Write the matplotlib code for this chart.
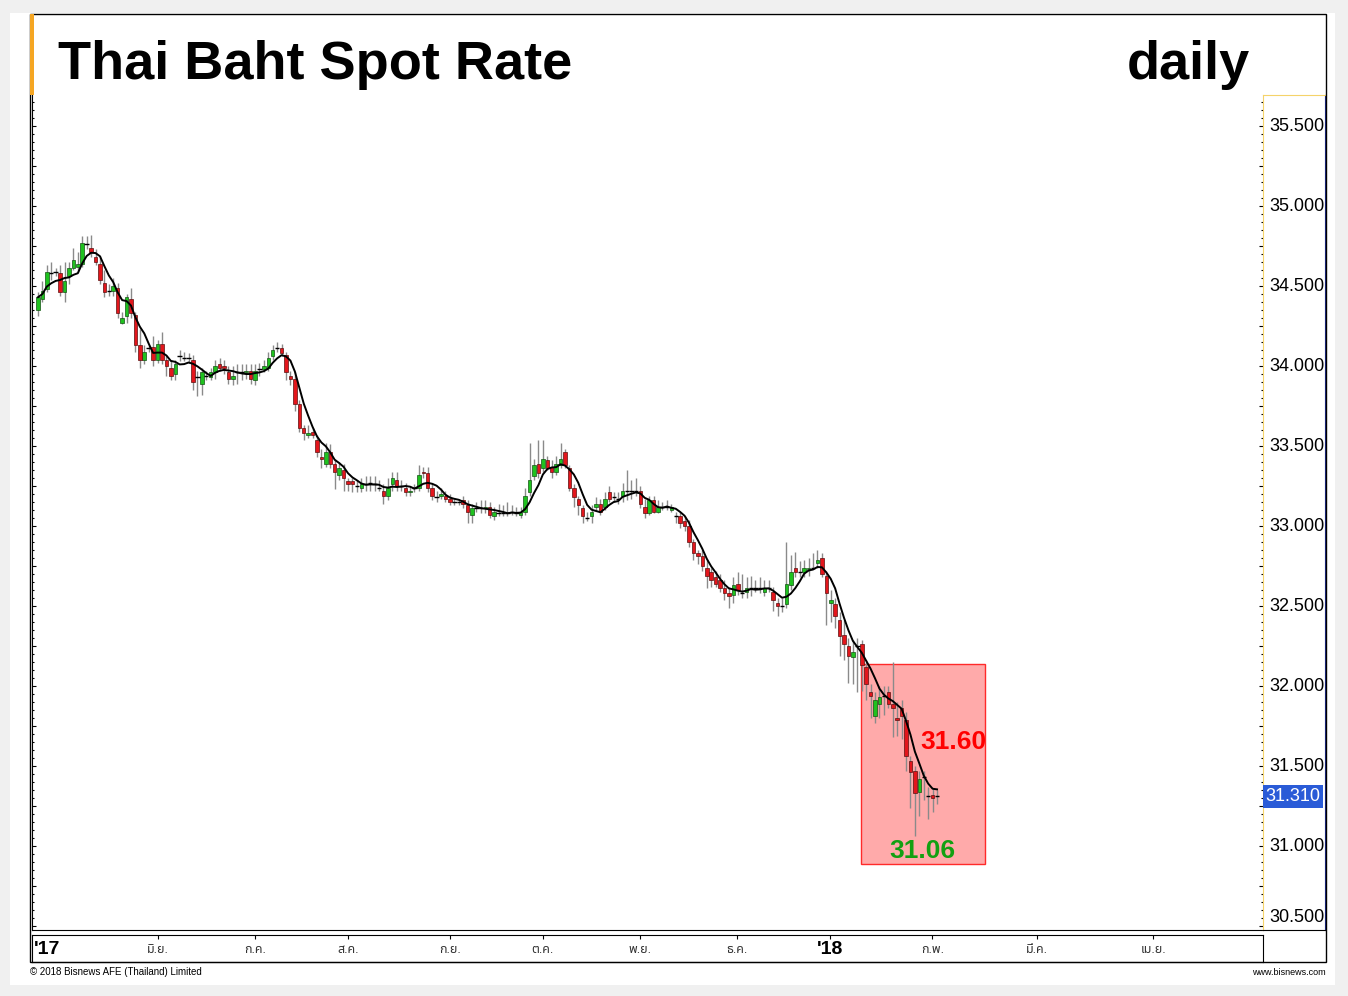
import matplotlib
matplotlib.use('Agg')
import matplotlib.pyplot as plt
from matplotlib.patches import Rectangle
from matplotlib.ticker import MultipleLocator
import numpy as np
import pandas as pd

# daily OHLC, Thai baht per USD
opens = [34.35, 34.42, 34.48, 34.58, 34.59, 34.58, 34.46, 34.56, 34.61, 34.62,
         34.64, 34.76, 34.74, 34.68, 34.64, 34.52, 34.47, 34.47, 34.49, 34.27,
         34.31, 34.42, 34.32, 34.13, 34.04, 34.11, 34.12, 34.04, 34.14, 34.04,
         33.99, 33.95, 34.06, 34.05, 34.05, 34.04, 33.93, 33.89, 33.94, 33.93,
         33.96, 34.01, 34.00, 33.96, 33.92, 33.96, 33.96, 33.96, 33.97, 33.91,
         33.98, 33.98, 33.99, 34.06, 34.11, 34.11, 34.07, 33.94, 33.92, 33.76,
         33.61, 33.57, 33.59, 33.54, 33.43, 33.39, 33.46, 33.39, 33.32, 33.35,
         33.28, 33.28, 33.25, 33.24, 33.26, 33.27, 33.26, 33.24, 33.22, 33.19,
         33.26, 33.29, 33.25, 33.24, 33.21, 33.24, 33.24, 33.34, 33.33, 33.24,
         33.18, 33.19, 33.19, 33.17, 33.15, 33.15, 33.16, 33.13, 33.07, 33.11,
         33.11, 33.11, 33.12, 33.06, 33.08, 33.08, 33.08, 33.09, 33.08, 33.07,
         33.09, 33.21, 33.31, 33.39, 33.36, 33.41, 33.37, 33.34, 33.38, 33.46,
         33.36, 33.24, 33.17, 33.11, 33.05, 33.06, 33.12, 33.14, 33.12, 33.21,
         33.18, 33.17, 33.19, 33.22, 33.22, 33.22, 33.22, 33.12, 33.08, 33.16,
         33.09, 33.12, 33.12, 33.10, 33.06, 33.06, 33.03, 33.00, 32.90, 32.83,
         32.81, 32.74, 32.71, 32.68, 32.66, 32.61, 32.58, 32.57, 32.64, 32.58,
         32.59, 32.61, 32.61, 32.61, 32.59, 32.61, 32.59, 32.52, 32.50, 32.51,
         32.63, 32.74, 32.71, 32.71, 32.73, 32.74, 32.77, 32.80, 32.69, 32.52,
         32.51, 32.41, 32.32, 32.25, 32.18, 32.25, 32.26, 32.12, 31.96, 31.81,
         31.89, 31.94, 31.96, 31.89, 31.80, 31.86, 31.79, 31.53, 31.47, 31.34,
         31.43, 31.31, 31.32, 31.31]
highs = [34.46, 34.53, 34.63, 34.65, 34.61, 34.63, 34.65, 34.65, 34.74, 34.71,
         34.81, 34.81, 34.82, 34.73, 34.69, 34.60, 34.51, 34.55, 34.52, 34.34,
         34.45, 34.49, 34.34, 34.23, 34.13, 34.13, 34.19, 34.16, 34.21, 34.07,
         34.04, 34.04, 34.10, 34.09, 34.08, 34.07, 33.97, 33.99, 33.97, 33.99,
         34.04, 34.05, 34.04, 34.00, 34.00, 34.01, 34.01, 34.01, 34.01, 34.01,
         34.02, 34.04, 34.09, 34.13, 34.15, 34.14, 34.09, 33.97, 33.96, 33.79,
         33.63, 33.63, 33.61, 33.57, 33.48, 33.52, 33.51, 33.42, 33.40, 33.39,
         33.30, 33.30, 33.29, 33.30, 33.31, 33.31, 33.31, 33.29, 33.26, 33.30,
         33.34, 33.34, 33.29, 33.27, 33.25, 33.26, 33.38, 33.37, 33.37, 33.27,
         33.22, 33.24, 33.22, 33.20, 33.17, 33.17, 33.19, 33.16, 33.14, 33.15,
         33.16, 33.16, 33.15, 33.12, 33.14, 33.13, 33.15, 33.13, 33.12, 33.12,
         33.24, 33.52, 33.42, 33.54, 33.54, 33.44, 33.41, 33.44, 33.52, 33.48,
         33.38, 33.26, 33.19, 33.13, 33.09, 33.13, 33.18, 33.17, 33.21, 33.25,
         33.21, 33.21, 33.27, 33.35, 33.29, 33.30, 33.25, 33.17, 33.19, 33.19,
         33.16, 33.15, 33.16, 33.14, 33.09, 33.09, 33.06, 33.04, 32.92, 32.85,
         32.85, 32.79, 32.74, 32.72, 32.70, 32.66, 32.62, 32.68, 32.71, 32.70,
         32.68, 32.69, 32.66, 32.68, 32.66, 32.66, 32.62, 32.55, 32.55, 32.90,
         32.82, 32.84, 32.78, 32.79, 32.80, 32.83, 32.85, 32.83, 32.72, 32.60,
         32.55, 32.46, 32.41, 32.30, 32.29, 32.30, 32.29, 32.16, 32.01, 31.96,
         32.00, 32.00, 32.00, 32.15, 31.90, 31.91, 31.84, 31.56, 31.50, 31.47,
         31.47, 31.37, 31.36, 31.35]
lows = [34.31, 34.40, 34.46, 34.54, 34.56, 34.44, 34.40, 34.51, 34.60, 34.59,
        34.62, 34.73, 34.68, 34.63, 34.51, 34.43, 34.44, 34.44, 34.30, 34.26,
        34.27, 34.30, 34.09, 33.99, 34.01, 34.09, 34.00, 34.02, 34.01, 33.94,
        33.91, 33.91, 34.03, 34.03, 34.02, 33.85, 33.81, 33.82, 33.91, 33.91,
        33.92, 33.97, 33.95, 33.89, 33.88, 33.89, 33.91, 33.92, 33.89, 33.88,
        33.94, 33.96, 33.97, 34.04, 34.09, 34.06, 33.91, 33.88, 33.72, 33.59,
        33.54, 33.55, 33.55, 33.43, 33.36, 33.37, 33.36, 33.23, 33.29, 33.22,
        33.22, 33.21, 33.21, 33.21, 33.22, 33.22, 33.22, 33.22, 33.14, 33.16,
        33.22, 33.22, 33.22, 33.19, 33.19, 33.21, 33.22, 33.30, 33.21, 33.16,
        33.15, 33.17, 33.15, 33.13, 33.13, 33.13, 33.11, 33.02, 33.02, 33.09,
        33.08, 33.08, 33.05, 33.04, 33.06, 33.06, 33.06, 33.07, 33.06, 33.05,
        33.07, 33.19, 33.29, 33.30, 33.34, 33.35, 33.30, 33.32, 33.36, 33.36,
        33.22, 33.12, 33.07, 33.02, 33.03, 33.02, 33.10, 33.07, 33.10, 33.15,
        33.15, 33.14, 33.15, 33.16, 33.17, 33.19, 33.11, 33.05, 33.07, 33.08,
        33.08, 33.10, 33.10, 33.09, 33.02, 32.99, 32.97, 32.87, 32.79, 32.76,
        32.72, 32.61, 32.62, 32.62, 32.59, 32.54, 32.49, 32.52, 32.57, 32.55,
        32.55, 32.56, 32.59, 32.58, 32.56, 32.59, 32.47, 32.44, 32.46, 32.49,
        32.60, 32.68, 32.68, 32.68, 32.69, 32.73, 32.74, 32.68, 32.38, 32.40,
        32.36, 32.19, 32.16, 32.02, 32.01, 31.96, 31.97, 31.91, 31.80, 31.77,
        31.80, 31.82, 31.86, 31.68, 31.69, 31.67, 31.47, 31.24, 31.06, 31.19,
        31.29, 31.17, 31.21, 31.26]
closes = [34.43, 34.47, 34.59, 34.58, 34.59, 34.46, 34.53, 34.61, 34.66, 34.64,
          34.77, 34.76, 34.71, 34.65, 34.54, 34.46, 34.47, 34.50, 34.33, 34.30,
          34.43, 34.33, 34.13, 34.04, 34.09, 34.11, 34.04, 34.14, 34.04, 34.00,
          33.94, 34.01, 34.06, 34.05, 34.05, 33.90, 33.93, 33.96, 33.94, 33.96,
          34.00, 33.99, 33.99, 33.92, 33.94, 33.96, 33.96, 33.97, 33.92, 33.97,
          33.98, 34.00, 34.05, 34.10, 34.11, 34.08, 33.96, 33.92, 33.76, 33.61,
          33.58, 33.58, 33.57, 33.46, 33.42, 33.46, 33.39, 33.34, 33.36, 33.30,
          33.26, 33.26, 33.25, 33.26, 33.26, 33.27, 33.26, 33.24, 33.19, 33.24,
          33.30, 33.25, 33.25, 33.21, 33.22, 33.24, 33.32, 33.33, 33.24, 33.19,
          33.18, 33.20, 33.17, 33.15, 33.15, 33.15, 33.14, 33.09, 33.11, 33.11,
          33.11, 33.12, 33.07, 33.09, 33.08, 33.08, 33.08, 33.09, 33.08, 33.09,
          33.19, 33.29, 33.38, 33.33, 33.42, 33.36, 33.34, 33.39, 33.42, 33.38,
          33.24, 33.18, 33.13, 33.06, 33.05, 33.09, 33.14, 33.09, 33.17, 33.17,
          33.18, 33.17, 33.22, 33.22, 33.22, 33.22, 33.14, 33.08, 33.16, 33.09,
          33.12, 33.12, 33.12, 33.12, 33.06, 33.02, 33.00, 32.90, 32.83, 32.81,
          32.75, 32.69, 32.66, 32.64, 32.61, 32.58, 32.56, 32.63, 32.60, 32.58,
          32.61, 32.61, 32.61, 32.61, 32.61, 32.61, 32.54, 32.50, 32.50, 32.64,
          32.71, 32.71, 32.71, 32.74, 32.74, 32.74, 32.79, 32.70, 32.58, 32.54,
          32.44, 32.31, 32.26, 32.19, 32.21, 32.25, 32.13, 32.01, 31.94, 31.91,
          31.93, 31.94, 31.89, 31.86, 31.79, 31.81, 31.56, 31.46, 31.33, 31.42,
          31.43, 31.31, 31.30, 31.31]

# x axis: bar index where each month starts
month_pos = [27.1, 49.0, 70.0, 93.0, 114.0, 135.9, 157.8, 201.9, 225.6, 251.8]
month_labels = ['มิ.ย.', 'ก.ค.', 'ส.ค.', 'ก.ย.', 'ต.ค.', 'พ.ย.', 'ธ.ค.', 'ก.พ.', 'มี.ค.', 'เม.ย.']
year_pos = [-1.0, 178.8]
year_labels = ["'17", "'18"]

price_ticks = [35.5, 35.0, 34.5, 34.0, 33.5, 33.0, 32.5, 32.0, 31.5, 31.0, 30.5]
last_price = 31.31
range_high, range_low = '31.60', '31.06'

NARROW = ['Liberation Sans Narrow', 'Liberation Sans', 'DejaVu Sans']
THAI = ['Liberation Sans', 'Noto Sans Thai', 'Noto Sans Thai UI', 'Noto Serif Thai',
        'Noto Looped Thai', 'Loma', 'Garuda', 'Norasi', 'Kinnari', 'Waree',
        'Sawasdee', 'Umpush', 'Tlwg Typo', 'Tlwg Typist', 'Laksaman', 'Sarabun',
        'FreeSans', 'FreeSerif', 'Tahoma', 'Leelawadee UI', 'DejaVu Sans']

W, H = 1348, 996


def fx(x):
    return x / W


def fy(y):
    return 1 - y / H


fig = plt.figure(figsize=(W / 100, H / 100), dpi=100, facecolor='#f0f0f0')
fig.patches.append(Rectangle((fx(10), fy(985)), fx(1335) - fx(10), fy(13) - fy(985),
                             transform=fig.transFigure, facecolor='white',
                             edgecolor='none', zorder=-5))

ax = fig.add_axes([fx(32), fy(930), fx(1263) - fx(32), fy(95) - fy(930)])
rp = fig.add_axes([fx(1263), fy(930), fx(1325) - fx(1263), fy(95) - fy(930)])
st = fig.add_axes([fx(32), fy(962), fx(1263) - fx(32), fy(935) - fy(962)])
for a in (ax, rp, st):
    a.set_facecolor('none')

ymin, ymax = 30.475, 35.694
xmin, xmax = -1.35, 276.6

o = np.array(opens)
h = np.array(highs)
l = np.array(lows)
c = np.array(closes)
idx = np.arange(len(c))

# highlighted range box
ax.add_patch(Rectangle((185.8, 30.89), 28.0, 1.25, facecolor='#ffaaaa',
                       edgecolor='#ff2a2a', lw=1.0, zorder=1))

ax.vlines(idx, l, h, color='#8a8a8a', lw=1.0, zorder=2)
up = c > o
dn = c < o
eq = c == o
ax.bar(idx[up], (c - o)[up], bottom=o[up], width=0.8, color='#1fc21f',
       edgecolor='#145214', lw=0.5, zorder=3)
ax.bar(idx[dn], (o - c)[dn], bottom=c[dn], width=0.8, color='#e3161c',
       edgecolor='#5a1010', lw=0.5, zorder=3)
ax.hlines(c[eq], idx[eq] - 0.5, idx[eq] + 0.5, color='black', lw=1.0, zorder=3)

ma = pd.Series(c).rolling(5, min_periods=1).mean()
ax.plot(idx, ma, color='black', lw=1.4, zorder=4)

ax.text(206.6, 31.65, range_high, color='#ff0000', fontsize=19, fontweight='bold',
        family=NARROW, ha='center', va='center', zorder=5)
ax.text(199.8, 30.97, range_low, color='#12a012', fontsize=19, fontweight='bold',
        family=NARROW, ha='center', va='center', zorder=5)

ax.set_xlim(xmin, xmax)
ax.set_ylim(ymin, ymax)
ax.yaxis.set_major_locator(MultipleLocator(0.25))
ax.yaxis.set_minor_locator(MultipleLocator(0.05))
ax.tick_params(axis='y', which='both', left=True, right=True, direction='in',
               labelleft=False, colors='black')
ax.tick_params(axis='y', which='major', length=3, width=0.8)
ax.tick_params(axis='y', which='minor', length=1.5, width=0.8)
ax.set_xticks([])
for s in ['top', 'right']:
    ax.spines[s].set_visible(False)
ax.spines['left'].set_color('black')
ax.spines['bottom'].set_color('black')

# price panel on the right
rp.set_ylim(ymin, ymax)
rp.set_xlim(0, 1)
rp.set_xticks([])
rp.set_yticks([])
rp.spines['left'].set_color('#f5d36a')
rp.spines['top'].set_color('#f5d36a')
rp.spines['right'].set_color('#1c2a8c')
rp.spines['bottom'].set_color('black')
for p in price_ticks:
    va = 'bottom' if p == price_ticks[-1] else 'center'
    rp.text(0.11, p, f'{p:.3f}', fontsize=13, family=NARROW, ha='left', va=va)
rp.text(0.04, last_price, f'{last_price:.3f}', fontsize=13, family=NARROW,
        ha='left', va='center', color='white',
        bbox=dict(facecolor='#2a5bd7', edgecolor='none', pad=2))

# month strip
st.set_xlim(xmin, xmax)
st.set_ylim(0, 1)
st.set_yticks([])
st.set_xticks(month_pos + [year_pos[1]])
st.tick_params(axis='x', direction='in', length=3, top=True, bottom=False,
               labelbottom=False, width=0.8)
for pos, lab in zip(month_pos, month_labels):
    st.text(pos, 0.45, lab, fontsize=9, family=THAI, ha='center', va='center',
            color='#333333')
st.text(year_pos[0], 0.45, year_labels[0], fontsize=14, fontweight='bold',
        family=NARROW, ha='left', va='center')
st.text(year_pos[1], 0.45, year_labels[1], fontsize=14, fontweight='bold',
        family=NARROW, ha='center', va='center')

# frame, orange marker, titles and footer
fig.patches.append(Rectangle((fx(30), fy(962)), fx(1326) - fx(30), fy(14) - fy(962),
                             transform=fig.transFigure, fill=False,
                             edgecolor='black', lw=1.0, zorder=5))
fig.patches.append(Rectangle((fx(30), fy(95)), fx(34) - fx(30), fy(14) - fy(95),
                             transform=fig.transFigure, facecolor='#f5a623',
                             edgecolor='none', zorder=6))
fig.text(fx(58), fy(79), 'Thai Baht Spot Rate', fontsize=39, fontweight='bold',
         family=NARROW, ha='left', va='baseline')
fig.text(fx(1250), fy(79), 'daily', fontsize=39, fontweight='bold',
         family=NARROW, ha='right', va='baseline')
fig.text(fx(30), fy(972), '© 2018 Bisnews AFE (Thailand) Limited', fontsize=7,
         family=NARROW, ha='left', va='center')
fig.text(fx(1326), fy(972), 'www.bisnews.com', fontsize=6.5, family=NARROW,
         ha='right', va='center')

fig.savefig('out.png', dpi=100, facecolor=fig.get_facecolor())
